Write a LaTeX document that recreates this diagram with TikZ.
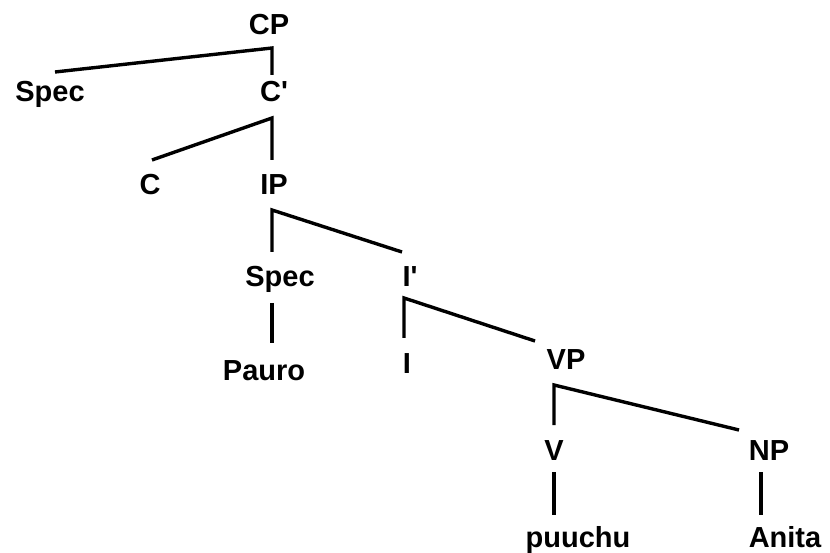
\documentclass[tikz,border=0pt]{standalone}
\usepackage{fontspec}
\newfontfamily\treefont{Liberation Sans}
\begin{document}
\begin{tikzpicture}[x=1pt,y=-1pt,
  lab/.style={anchor=base,inner sep=0pt,font=\treefont\bfseries\fontsize{29}{35}\selectfont},
  branch/.style={line width=3.4pt,line join=miter}]
\useasboundingbox[fill=white] (0,0) rectangle (830,553);
% labels
\node[lab] (CP) at (269,35) {CP};
\node[lab] (SpecA) at (50,102) {Spec};
\node[lab] (Cbar) at (274,102) {C'};
\node[lab] (C) at (150,195) {C};
\node[lab] (IP) at (274,195) {IP};
\node[lab] (SpecB) at (280,287) {Spec};
\node[lab] (Ibar) at (410,287) {I'};
\node[lab] (Pauro) at (264,380) {Pauro};
\node[lab] (I) at (407,373) {I};
\node[lab] (VP) at (566,370) {VP};
\node[lab] (V) at (554,460) {V};
\node[lab] (NP) at (769,460) {NP};
\node[lab] (puuchu) at (578,547) {puuchu};
\node[lab] (Anita) at (785,547) {Anita};
% branch points
\coordinate (kCP) at (272,48);
\coordinate (tCbar) at (272,75);
\coordinate (tSpecA) at (55,72);
\coordinate (kCbar) at (272,118);
\coordinate (tIP) at (272,160);
\coordinate (tC) at (152,160);
\coordinate (kIP) at (272,210);
\coordinate (tSpecB) at (272,252);
\coordinate (tIbar) at (402,252);
\coordinate (kSpecB) at (272,303);
\coordinate (tPauro) at (272,343);
\coordinate (kIbar) at (404,298);
\coordinate (tI) at (404,338);
\coordinate (tVP) at (535,341);
\coordinate (kVP) at (554,385);
\coordinate (tV) at (554,425);
\coordinate (tNP) at (739,430);
\coordinate (kV) at (554,472);
\coordinate (tpuuchu) at (554,515);
\coordinate (kNP) at (761,472);
\coordinate (tAnita) at (761,515);
% branches
\draw[branch] (tSpecA) -- (kCP) -- (tCbar);
\draw[branch] (tC) -- (kCbar) -- (tIP);
\draw[branch] (tSpecB) -- (kIP) -- (tIbar);
\draw[branch] (kSpecB) -- (tPauro);
\draw[branch] (tI) -- (kIbar) -- (tVP);
\draw[branch] (tV) -- (kVP) -- (tNP);
\draw[branch] (kV) -- (tpuuchu);
\draw[branch] (kNP) -- (tAnita);
\end{tikzpicture}
\end{document}
